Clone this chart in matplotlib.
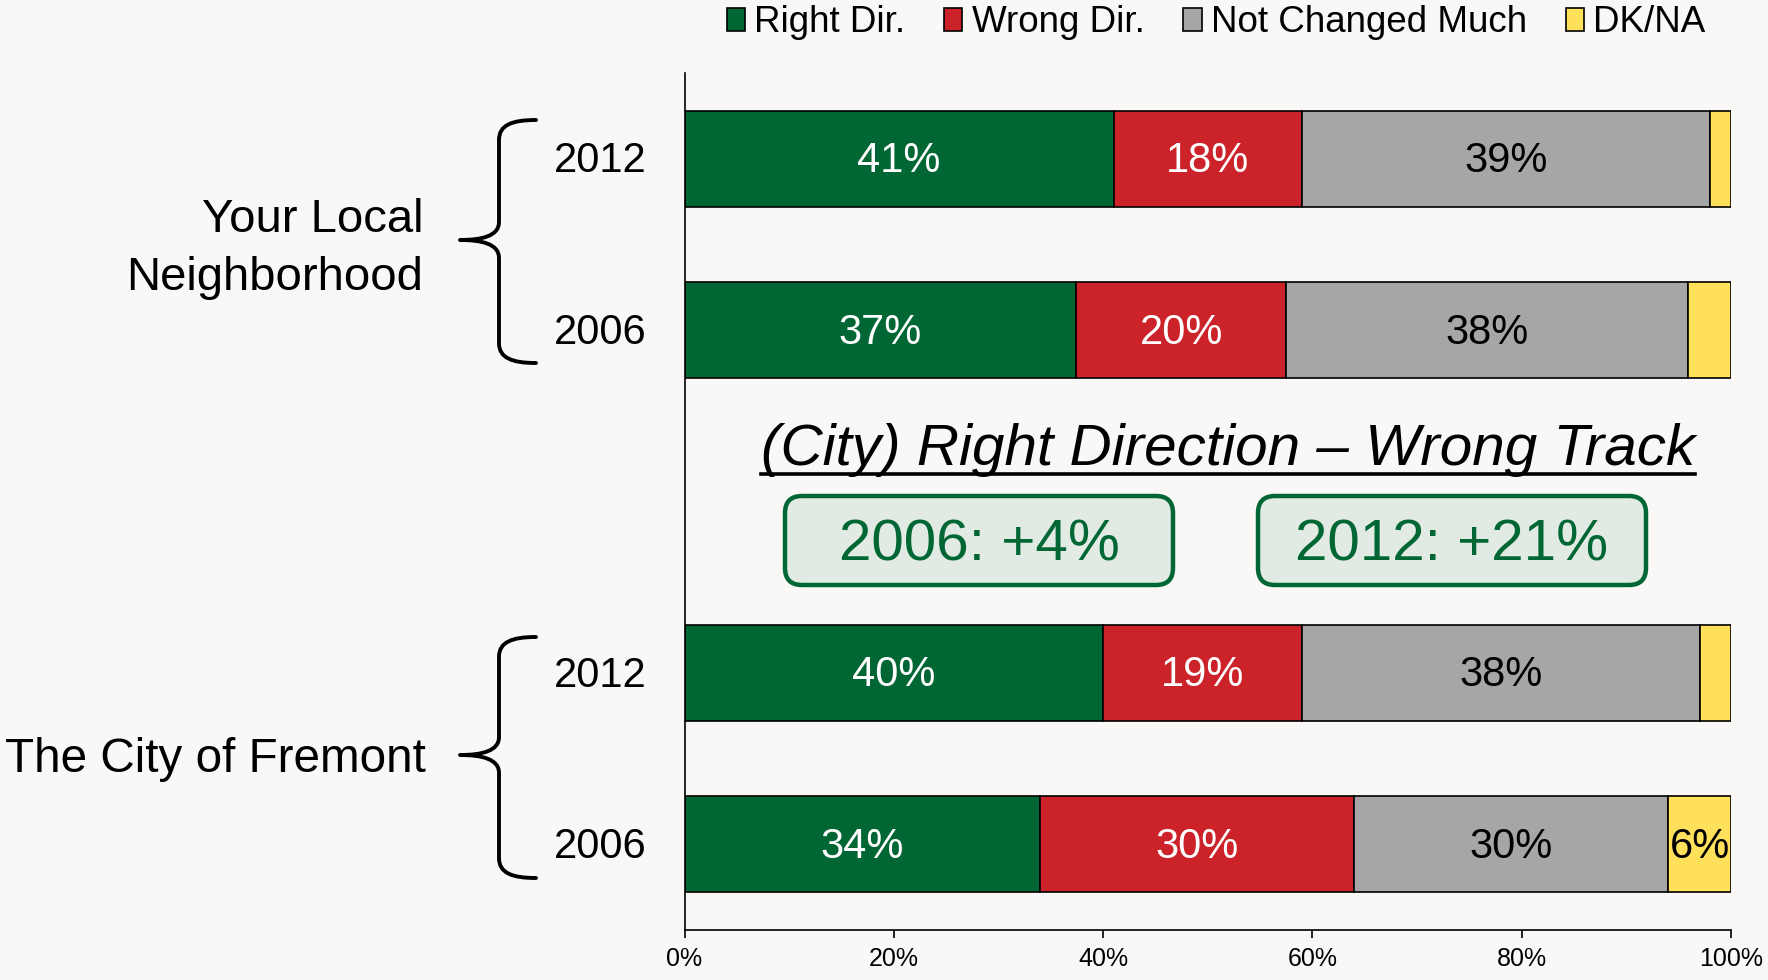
import matplotlib
matplotlib.use("Agg")
import matplotlib.pyplot as plt
from matplotlib.patches import Patch, PathPatch, FancyBboxPatch
from matplotlib.path import Path
from matplotlib.lines import Line2D

plt.rcParams['font.family'] = ['Liberation Sans', 'DejaVu Sans']

# ---------------- data ----------------
groups = ["Your Local\nNeighborhood", "The City of Fremont"]
years = ["2012", "2006", "2012", "2006"]
right_dir = [41, 37.4, 40, 34]
wrong_dir = [18, 20.1, 19, 30]
not_changed = [39, 38.4, 38, 30]
dk_na = [2, 4.1, 3, 6]
series_names = ["Right Dir.", "Wrong Dir.", "Not Changed Much", "DK/NA"]
net_labels = ["2006: +4%", "2012: +21%"]
title_text = "(City) Right Direction \u2013 Wrong Track"

# ---------------- style ----------------
BG = "#F9F8F6"
colors = ["#006633", "#CC2229", "#A6A6A6", "#FFE05A"]
text_colors = ["white", "white", "black", "black"]
W, H = 1768, 980

fig = plt.figure(figsize=(W / 100, H / 100), dpi=100, facecolor=BG)
ax = fig.add_axes([684.5 / W, 1 - 930 / H, (1731 - 684.5) / W, (930 - 73) / H])
ax.set_facecolor(BG)

positions = [4, 3, 1, 0]
series = [right_dir, wrong_dir, not_changed, dk_na]
left = [0.0] * 4
for vals, col, tcol in zip(series, colors, text_colors):
    bars = ax.barh(positions, vals, left=left, height=0.56, color=col,
                   edgecolor="black", linewidth=1.2)
    for b, v, l in zip(bars, vals, left):
        if v >= 5:
            ax.text(l + v / 2, b.get_y() + b.get_height() / 2 - 0.015, f"{round(v)}%",
                    ha="center", va="center", color=tcol, fontsize=30)
    left = [a + b for a, b in zip(left, vals)]

ax.set_xlim(0, 100)
ax.set_ylim(-0.5, 4.5)
ax.set_xticks([0, 20, 40, 60, 80, 100])
ax.set_xticklabels([f"{t}%" for t in [0, 20, 40, 60, 80, 100]], fontsize=18)
ax.tick_params(axis="x", length=6, width=1.2, pad=6)
ax.set_yticks([p + 0.01 for p in positions])
ax.set_yticklabels(years, fontsize=30)
ax.tick_params(axis="y", length=0, pad=27)
for s in ["top", "right"]:
    ax.spines[s].set_visible(False)
for s in ["left", "bottom"]:
    ax.spines[s].set_linewidth(1.2)

tr = fig.dpi_scale_trans


def P(x, y):
    return (x / 100, (H - y) / 100)


# group labels
fig.text(423 / W, 1 - 249 / H, groups[0], ha="right", va="center",
         fontsize=34, linespacing=1.4)
fig.text(426 / W, 1 - 759 / H, groups[1], ha="right", va="center", fontsize=34.3)


# brackets
def bracket(top, mid, bot):
    xe, xs, xt = 536, 499, 460
    verts = [P(xe, top), P(512, top), P(xs, top + 5), P(xs, top + 20),
             P(xs, mid - 18),
             P(xs, mid - 4), P(482, mid), P(xt, mid),
             P(482, mid), P(xs, mid + 4), P(xs, mid + 18),
             P(xs, bot - 20),
             P(xs, bot - 5), P(512, bot), P(xe, bot)]
    codes = [Path.MOVETO, Path.CURVE4, Path.CURVE4, Path.CURVE4,
             Path.LINETO,
             Path.CURVE4, Path.CURVE4, Path.CURVE4,
             Path.CURVE4, Path.CURVE4, Path.CURVE4,
             Path.LINETO,
             Path.CURVE4, Path.CURVE4, Path.CURVE4]
    fig.add_artist(PathPatch(Path(verts, codes), transform=tr, fill=False,
                             edgecolor="black", linewidth=2.8,
                             capstyle="round", joinstyle="round"))


bracket(120, 240, 363)
bracket(637, 755, 878)

# legend
handles = [Patch(facecolor=c, edgecolor="black", linewidth=1.2) for c in colors]
fig.legend(handles, series_names, loc="center", bbox_to_anchor=(1216 / W, 1 - 23 / H),
           ncol=4, frameon=False, fontsize=26.5, handlelength=0.5, handleheight=0.6,
           handletextpad=0.25, columnspacing=1.05, borderpad=0, borderaxespad=0)

# title with underline
title = fig.text(1228 / W, 1 - 465 / H, title_text, ha="center", va="baseline",
                 fontsize=42, style="italic")

# net boxes
box_x = [(785, 1173), (1258, 1646)]
for (x0, x1), lab in zip(box_x, net_labels):
    y0, y1 = 496, 585
    fig.add_artist(FancyBboxPatch(P(x0, y1), (x1 - x0) / 100, (y1 - y0) / 100,
                                  boxstyle="round,pad=0,rounding_size=0.17",
                                  transform=tr, facecolor="#E1EBE3",
                                  edgecolor="#006633", linewidth=3.2))
    fig.text((x0 + x1) / 2 / W, 1 - ((y0 + y1) / 2 + 5) / H, lab, ha="center",
             va="center", fontsize=42, color="#006633")

fig.canvas.draw()
bb = title.get_window_extent()
fig.add_artist(Line2D([bb.x0 / W, bb.x1 / W], [1 - 474 / H, 1 - 474 / H],
                      transform=fig.transFigure, color="black", linewidth=2.6))

fig.savefig("out.png", dpi=100, facecolor=BG)
